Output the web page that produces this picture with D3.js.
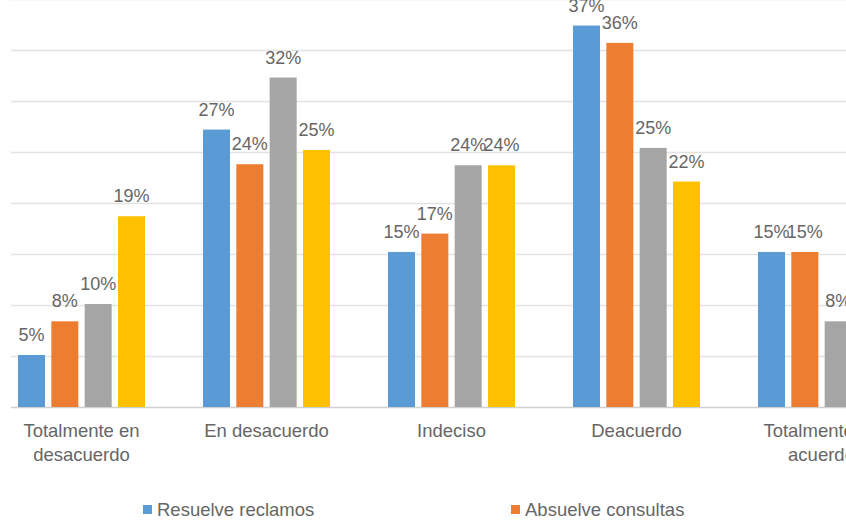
<!DOCTYPE html>
<html>
<head>
<meta charset="utf-8">
<script src="https://cdn.jsdelivr.net/npm/d3@7"></script>
<style>
  html, body { margin: 0; padding: 0; background: #fff; overflow: hidden; }
  svg { display: block; }
  text { font-family: "Liberation Sans", Arial, sans-serif; fill: #666; }
</style>
</head>
<body>
<svg id="chart" width="846" height="520"></svg>
<script>
const categories = ["Totalmente en desacuerdo", "En desacuerdo", "Indeciso", "Deacuerdo", "Totalmente de acuerdo"];
const seriesNames = ["Resuelve reclamos", "Absuelve consultas", "Serie 3", "Serie 4"];
const resuelveReclamos  = [0.051, 0.272, 0.152, 0.374, 0.152];
const absuelveConsultas = [0.084, 0.238, 0.170, 0.357, 0.152];
const serie3            = [0.101, 0.323, 0.237, 0.254, 0.084];
const serie4            = [0.187, 0.252, 0.237, 0.221, 0.100];
const yTicks = [0, 0.05, 0.10, 0.15, 0.20, 0.25, 0.30, 0.35, 0.40];
const colors = ["#5B9BD5", "#ED7D31", "#A5A5A5", "#FFC000"];

const seriesValues = [resuelveReclamos, absuelveConsultas, serie3, serie4];
const W = 846, H = 520;
const svg = d3.select("#chart");

const x0 = d3.scaleBand().domain(categories).range([-11, 914]).padding(0);
const x1 = d3.scaleBand().domain(seriesNames).range([29, 156]).paddingInner(0.19).paddingOuter(0);
const y = d3.scaleLinear().domain([0, 0.40]).range([407, -1]);

// gridlines
svg.append("g").selectAll("line").data(yTicks).join("line")
  .attr("x1", 11).attr("x2", W)
  .attr("y1", d => Math.round(y(d)) + 0.5).attr("y2", d => Math.round(y(d)) + 0.5)
  .attr("stroke", d => d === 0 ? "#D0D0D0" : "#E3E3E3").attr("stroke-width", 1.5);

// bars
const rows = [];
categories.forEach((c, i) => seriesNames.forEach((s, j) => rows.push({ c, s, j, v: seriesValues[j][i] })));

const g = svg.append("g");
g.selectAll("rect").data(rows).join("rect")
  .attr("x", d => x0(d.c) + x1(d.s))
  .attr("y", d => y(d.v))
  .attr("width", x1.bandwidth())
  .attr("height", d => y(0) - y(d.v))
  .attr("fill", d => colors[d.j]);

const fmt = d3.format(".0%");
g.selectAll("text.lbl").data(rows).join("text").attr("class", "lbl")
  .attr("x", d => x0(d.c) + x1(d.s) + x1.bandwidth() / 2)
  .attr("y", d => y(d.v) - 14)
  .attr("text-anchor", "middle")
  .style("font-size", "18px")
  .text(d => fmt(d.v));

// category axis labels (wrapped)
const wrap = {
  "Totalmente en desacuerdo": ["Totalmente en", "desacuerdo"],
  "Totalmente de acuerdo": ["Totalmente de", "acuerdo"]
};
const ax = svg.append("g");
categories.forEach(c => {
  const lines = wrap[c] || [c];
  const t = ax.append("text")
    .attr("x", x0(c) + x0.bandwidth() / 2)
    .attr("y", 437)
    .attr("text-anchor", "middle")
    .style("font-size", "18.5px");
  lines.forEach((ln, k) => t.append("tspan")
    .attr("x", x0(c) + x0.bandwidth() / 2)
    .attr("dy", k === 0 ? 0 : 24)
    .text(ln));
});

// legend
const lg = svg.append("g");
seriesNames.forEach((s, j) => {
  const lx = 143 + j * 368;
  if (lx > W) return;
  lg.append("rect").attr("x", lx).attr("y", 505).attr("width", 9).attr("height", 9).attr("fill", colors[j]);
  lg.append("text").attr("x", lx + 14).attr("y", 516).style("font-size", "18.5px").text(s);
});
</script>
</body>
</html>
